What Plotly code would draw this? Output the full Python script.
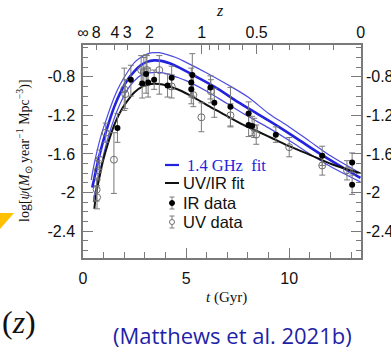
import plotly.graph_objects as go

# ---------------- data ----------------
# UV/IR fit (black)
uvir_t = [0.55, 0.65, 0.8, 0.95, 1.2, 1.55, 1.9, 2.15, 2.5, 2.9, 3.3, 3.7, 4.2, 4.8, 5.75, 6.15, 7.1, 7.7, 8.4, 9.2, 10.0, 11.0, 12.1, 13.45]
uvir_v = [-2.17, -2.0, -1.84, -1.69, -1.50, -1.28, -1.13, -1.05, -0.96, -0.90, -0.875, -0.875, -0.90, -0.95, -1.06, -1.11, -1.22, -1.29, -1.36, -1.44, -1.52, -1.61, -1.71, -1.80]

# 1.4 GHz fit (blue) with upper/lower envelope
ghz_t = [0.45, 0.53, 0.65, 0.86, 1.1, 1.5, 1.8, 2.16, 2.5, 2.8, 3.1, 3.45, 3.8, 4.2, 4.9, 5.5, 6.5, 7.5, 8.5, 9.5, 10.5, 11.5, 12.5, 13.45]
ghz_v = [-1.95, -1.87, -1.75, -1.56, -1.38, -1.12, -0.97, -0.83, -0.74, -0.68, -0.645, -0.63, -0.635, -0.66, -0.73, -0.80, -0.92, -1.06, -1.19, -1.32, -1.46, -1.60, -1.73, -1.85]
ghz_up_t = [0.40, 0.5, 0.65, 0.86, 1.1, 1.5, 1.8, 2.16, 2.5, 2.8, 3.1, 3.4, 3.7, 4.0, 4.5, 5.0, 6.0, 7.0, 8.0, 9.0, 10.0, 11.0, 12.0, 13.45]
ghz_up_v = [-1.87, -1.75, -1.60, -1.42, -1.26, -1.02, -0.88, -0.75, -0.65, -0.60, -0.565, -0.55, -0.55, -0.565, -0.60, -0.65, -0.76, -0.88, -1.01, -1.18, -1.32, -1.47, -1.62, -1.80]
ghz_lo_t = [0.5, 0.6, 0.75, 0.9, 1.1, 1.5, 1.8, 2.16, 2.5, 2.8, 3.2, 3.6, 4.0, 4.5, 5.0, 6.0, 7.0, 8.0, 9.0, 10.0, 11.0, 12.0, 13.45]
ghz_lo_v = [-2.10, -1.98, -1.84, -1.70, -1.52, -1.24, -1.08, -0.93, -0.84, -0.785, -0.76, -0.755, -0.765, -0.80, -0.84, -0.95, -1.08, -1.21, -1.33, -1.46, -1.60, -1.73, -1.89]

# IR data (filled)
ir_t = [1.67, 2.32, 2.87, 3.06, 3.16, 3.45, 4.1, 4.3, 5.3, 5.25, 5.25, 6.18, 6.37, 7.15, 8.03, 8.03, 8.2, 9.35, 11.6, 13.05, 13.05]
ir_v = [-1.33, -0.83, -0.87, -0.77, -0.86, -0.83, -0.89, -0.81, -0.78, -0.86, -0.93, -0.91, -1.07, -1.11, -1.18, -1.30, -1.31, -1.40, -1.62, -1.69, -1.92]
ir_ep = [0.15, 0.15, 0.15, 0.2, 0.15, 0.1, 0.12, 0.12, 0.22, 0.15, 0.15, 0.12, 0.15, 0.2, 0.12, 0.12, 0.1, 0.08, 0.1, 0.1, 0.1]
ir_em = [0.15, 0.17, 0.15, 0.2, 0.15, 0.1, 0.12, 0.12, 0.22, 0.15, 0.15, 0.12, 0.15, 0.2, 0.12, 0.12, 0.1, 0.08, 0.1, 0.1, 0.1]

# UV data (open)
uv_t = [0.66, 0.68, 0.72, 0.8, 1.1, 1.5, 2.0, 2.05, 2.82, 2.95, 3.1, 3.7, 4.3, 5.35, 5.74, 6.2, 7.15, 8.3, 8.4, 10.0, 11.6, 12.8]
uv_v = [-1.97, -2.05, -1.77, -1.66, -1.38, -1.66, -0.93, -0.98, -0.73, -0.75, -0.73, -0.73, -0.90, -0.99, -1.22, -0.95, -1.20, -1.33, -1.40, -1.53, -1.72, -1.77]
uv_ep = [0.12, 0.12, 0.1, 0.1, 0.1, 0.28, 0.22, 0.15, 0.15, 0.15, 0.15, 0.15, 0.12, 0.2, 0.15, 0.12, 0.12, 0.1, 0.1, 0.1, 0.1, 0.1]
uv_em = [0.12, 0.12, 0.1, 0.1, 0.1, 0.35, 0.22, 0.15, 0.15, 0.15, 0.15, 0.25, 0.12, 0.12, 0.15, 0.12, 0.12, 0.1, 0.1, 0.1, 0.1, 0.1]

# axes
x_ticks = [0, 5, 10]
y_ticks = [-2.4, -2.0, -1.6, -1.2, -0.8]
y_ticktext = ["-2.4", "-2", "-1.6", "-1.2", "-0.8"]
z_label_t = [0.0, 0.64, 1.55, 2.14, 3.22, 5.75, 8.42, 13.47]
z_label_text = ["\u221e", "8", "4", "3", "2", "1", "0.5", "0"]
z_major_t = [3.22, 5.75, 8.42]
z_minor_t = [0.64, 1.55, 2.14, 6.14, 6.59, 7.11, 7.72, 9.17, 10.02, 10.99, 12.13]

XR = [0, 13.48]
YR = [-2.68, -0.47]

# ---------------- figure ----------------
W, H = 391, 350
L, R, T, B = 83, 30, 45, 92
PW, PH = W - L - R, H - T - B

def px(x):
    return (x - L) / PW

def py(y):
    return (H - B - y) / PH

fig = go.Figure()

BLUE = "#2323dc"
BLUE_T = "#4c4ce0"
GREY = "#7a7a7a"

fig.add_trace(go.Scatter(x=ghz_up_t, y=ghz_up_v, mode="lines", line=dict(color=BLUE_T, width=1.2, shape="spline"), showlegend=False))
fig.add_trace(go.Scatter(x=ghz_lo_t, y=ghz_lo_v, mode="lines", line=dict(color=BLUE_T, width=1.2, shape="spline"), showlegend=False))
fig.add_trace(go.Scatter(x=ghz_t, y=ghz_v, mode="lines", line=dict(color=BLUE, width=2.6, shape="spline"), showlegend=False))
fig.add_trace(go.Scatter(x=uvir_t, y=uvir_v, mode="lines", line=dict(color="#111111", width=2.0, shape="spline"), showlegend=False))

fig.add_trace(go.Scatter(
    x=uv_t, y=uv_v, mode="markers",
    marker=dict(symbol="circle-open", size=7, color="#6e6e6e", line=dict(width=1)),
    error_y=dict(type="data", symmetric=False, array=uv_ep, arrayminus=uv_em, color=GREY, thickness=1, width=3),
    showlegend=False))
fig.add_trace(go.Scatter(
    x=ir_t, y=ir_v, mode="markers",
    marker=dict(symbol="circle", size=6, color="#000000"),
    error_y=dict(type="data", symmetric=False, array=ir_ep, arrayminus=ir_em, color=GREY, thickness=1, width=3),
    showlegend=False))

# dummy traces to activate the extra axes
fig.add_trace(go.Scatter(x=[None], y=[None], xaxis="x2", yaxis="y2", showlegend=False))
fig.add_trace(go.Scatter(x=[None], y=[None], xaxis="x3", yaxis="y2", showlegend=False))

tickfont = dict(family="Liberation Sans, Arial, sans-serif", size=16, color="#111111")
axcommon = dict(showgrid=False, zeroline=False, showline=True, linecolor=GREY, linewidth=1.5,
                ticks="inside", tickcolor=GREY, tickwidth=1, automargin=False)

fig.update_layout(
    width=W, height=H,
    margin=dict(l=L, r=R, t=T, b=B, autoexpand=False),
    paper_bgcolor="white", plot_bgcolor="white",
    showlegend=False,
    xaxis=dict(range=XR, tickvals=x_ticks, ticktext=[str(v) for v in x_ticks], ticklen=10,
               tickfont=tickfont, ticklabelstandoff=5,
               minor=dict(tickvals=list(range(1, 14)), ticklen=6, ticks="inside", tickcolor=GREY),
               **axcommon),
    xaxis2=dict(range=XR, overlaying="x", side="top", tickvals=z_major_t, showticklabels=False, ticklen=9,
                minor=dict(tickvals=z_minor_t, ticklen=5, ticks="inside", tickcolor=GREY), **axcommon),
    xaxis3=dict(range=XR, overlaying="x", side="top", tickvals=z_label_t, ticktext=z_label_text,
                ticks="", showline=False, showgrid=False, zeroline=False, tickfont=tickfont, ticklabelstandoff=3,
                automargin=False),
    yaxis=dict(range=YR, tickvals=y_ticks, ticktext=y_ticktext, ticklen=10, tickfont=tickfont,
               ticklabelstandoff=3,
               minor=dict(dtick=0.1, tick0=-0.8, ticklen=5, ticks="inside", tickcolor=GREY), **axcommon),
    yaxis2=dict(range=YR, overlaying="y", side="right", tickvals=y_ticks, ticktext=y_ticktext, ticklen=10,
                tickfont=tickfont, ticklabelstandoff=0,
                minor=dict(dtick=0.1, tick0=-0.8, ticklen=5, ticks="inside", tickcolor=GREY),
                **axcommon),
)

ann = []
serif = "Liberation Serif, Times New Roman, serif"
sans = "Liberation Sans, Arial, sans-serif"

def A(x, y, text, font, xanchor="center", **kw):
    d = dict(x=px(x), y=py(y), xref="paper", yref="paper", showarrow=False, text=text, font=font,
             xanchor=xanchor, yanchor="middle")
    d.update(kw)
    ann.append(d)

A(24, 151, "log[<i>\u03c8</i>(<i>M</i><sub>\u2299</sub> year<sup>\u22121</sup> Mpc<sup>\u22123</sup>)]",
  dict(family=serif, size=14, color="#111"), textangle=-90)
A(226, 297, "<i>t</i> (Gyr)", dict(family=serif, size=15, color="#111"))
A(220, 10, "<i>z</i>", dict(family=serif, size=16, color="#111"))
# legend text
A(185, 165, "1.4 GHz  fit", dict(family=serif, size=16.5, color=BLUE), xanchor="left")
for yy, tx in [(183, "UV/IR fit"), (203, "IR data"), (222, "UV data")]:
    A(181, yy, tx, dict(family=sans, size=16.5, color="#111"), xanchor="left")
# slide text
A(19, 322, "(<i>z</i>)", dict(family=serif, size=32, color="#111"))
A(232, 335, "(Matthews et al. 2021b)", dict(family="Open Sans, sans-serif", size=22, color="#1f1fa8"))
fig.update_layout(annotations=ann)

shapes = []
shapes.append(dict(type="line", xref="paper", yref="paper", x0=px(165), x1=px(179), y0=py(165), y1=py(165),
                   line=dict(color=BLUE, width=2.2)))
shapes.append(dict(type="line", xref="paper", yref="paper", x0=px(165), x1=px(179), y0=py(183), y1=py(183),
                   line=dict(color="#111", width=2)))
for yy, filled in [(203, True), (222, False)]:
    shapes.append(dict(type="line", xref="paper", yref="paper", x0=px(172), x1=px(172), y0=py(yy - 6), y1=py(yy + 6),
                       line=dict(color=GREY, width=1)))
    for cy in (yy - 6, yy + 6):
        shapes.append(dict(type="line", xref="paper", yref="paper", x0=px(169.5), x1=px(174.5), y0=py(cy), y1=py(cy),
                           line=dict(color=GREY, width=1)))
    shapes.append(dict(type="circle", xref="paper", yref="paper", x0=px(169.5), x1=px(174.5), y0=py(yy - 2.5), y1=py(yy + 2.5),
                       fillcolor="#000" if filled else "white", line=dict(color="#000" if filled else "#6e6e6e", width=1)))
shapes.append(dict(type="path", xref="paper", yref="paper",
                   path=f"M {px(0)} {py(213)} L {px(14)} {py(213)} L {px(0)} {py(229)} Z",
                   fillcolor="#ffc000", line=dict(width=0)))
fig.update_layout(shapes=shapes)

fig.write_html("out.html")
